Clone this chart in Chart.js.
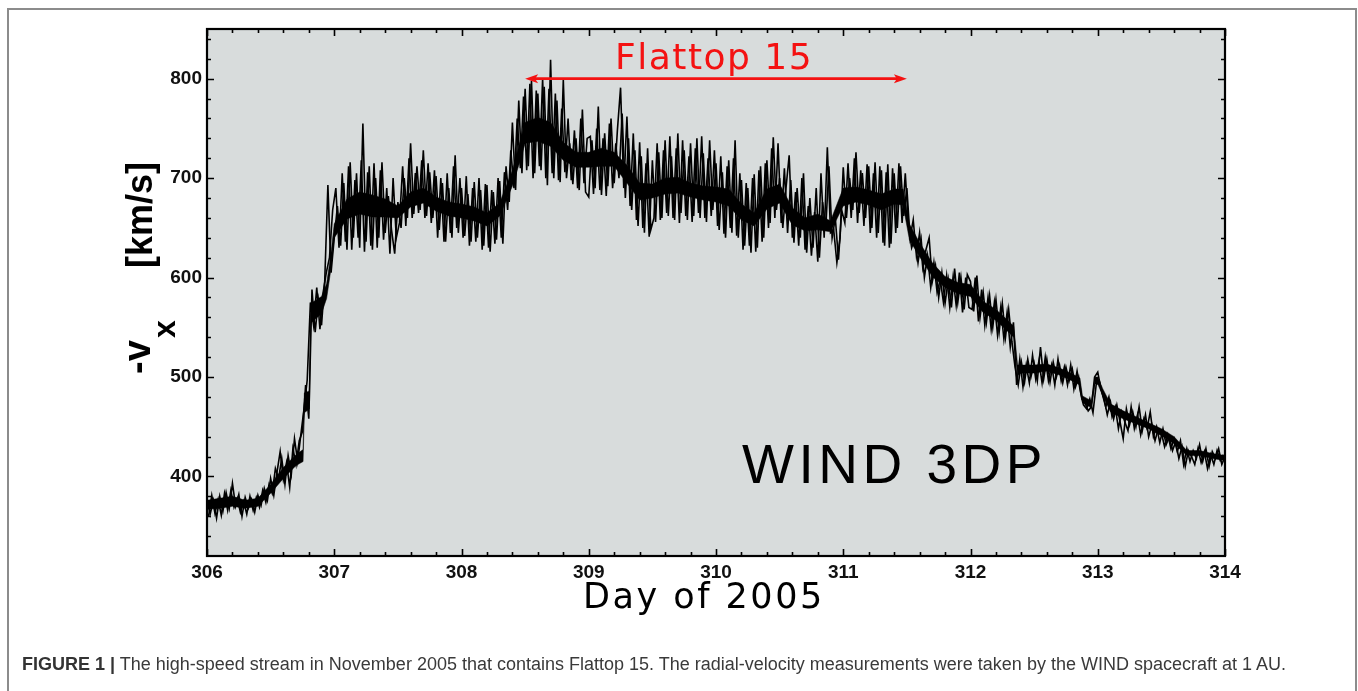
<!DOCTYPE html>
<html>
<head>
<meta charset="utf-8">
<title>WIND 3DP high-speed stream</title>
<script src="https://cdn.jsdelivr.net/npm/chart.js@4.4.1/dist/chart.umd.min.js"></script>
<style>
  html, body { margin: 0; padding: 0; background: #fff; }
  #wrap { position: relative; width: 1358px; height: 691px; overflow: hidden; }
  #frame { position: absolute; left: 7px; top: 8px; width: 1346px; height: 700px;
           border: 2px solid #8c8c8c; border-bottom: none; }
  #plot { position: absolute; left: 0; top: 0; }
  #caption { position: absolute; left: 22px; top: 655px; font-family: "Liberation Sans", Arial, sans-serif;
             font-size: 18px; line-height: 18px; color: #3a3a3a; white-space: nowrap; }
  #caption b { color: #333; }
</style>
</head>
<body>
<div id="wrap">
  <div id="frame"></div>
  <canvas id="plot" width="1358" height="691"></canvas>
  <div id="caption"><b>FIGURE 1 |</b> The high-speed stream in November 2005 that contains Flattop 15. The radial-velocity measurements were taken by the WIND spacecraft at 1 AU.</div>
</div>
<script>
// Solar-wind radial speed -v_x (km/s), two interleaved sample sets, each every 0.025 day
const DAY_START = 306;
const DAY_STEP = 0.025;
const speed = [
  // 306.0
  378, 362, 376, 358, 380, 365, 384, 368, 393, 370, 382, 360, 379, 368, 377, 364, 381, 371, 388, 376,
  // 306.5
  398, 381, 404, 425, 397, 414, 389, 428, 412, 436, 445, 492, 458, 588, 545, 578, 552, 596, 693, 605,
  // 307.0
  640, 672, 632, 695, 628, 716, 640, 705, 630, 755, 636, 712, 628, 700, 640, 716, 645, 682, 648, 624,
  // 307.5
  676, 650, 700, 660, 735, 664, 712, 668, 728, 662, 706, 660, 702, 648, 695, 636, 690, 640, 723, 645,
  // 308.0
  690, 642, 684, 636, 696, 640, 688, 632, 693, 626, 686, 638, 697, 634, 712, 676, 756, 688, 778, 705,
  // 308.5
  790, 712, 798, 705, 785, 708, 792, 693, 819, 700, 778, 696, 799, 700, 735, 694, 740, 688, 769, 686,
  // 309.0
  681, 738, 690, 772, 683, 745, 692, 760, 695, 748, 791, 690, 762, 672, 745, 658, 736, 650, 715, 641,
  // 309.5
  718, 656, 726, 660, 738, 662, 722, 658, 745, 665, 728, 658, 735, 662, 740, 660, 725, 656, 738, 668,
  // 310.0
  715, 648, 706, 640, 718, 645, 738, 640, 698, 632, 690, 625, 704, 630, 712, 640, 718, 655, 741, 668,
  // 310.5
  700, 650, 690, 723, 640, 686, 632, 700, 628, 672, 622, 666, 616, 705, 640, 731, 645, 648, 615, 640,
  // 311.0
  711, 660, 700, 668, 726, 665, 705, 660, 712, 650, 716, 645, 708, 632, 714, 634, 705, 650, 712, 662,
  // 311.5
  690, 640, 658, 622, 645, 610, 628, 640, 596, 612, 580, 605, 574, 598, 570, 609, 575, 600, 568, 603,
  // 312.0
  596, 566, 602, 560, 585, 555, 582, 550, 578, 545, 574, 540, 568, 536, 510, 492, 515, 495, 518, 500,
  // 312.5
  514, 496, 530, 498, 518, 495, 515, 500, 512, 494, 510, 496, 508, 490, 500, 478, 474, 466, 470, 500,
  // 313.0
  505, 488, 478, 462, 475, 458, 472, 455, 438, 468, 452, 465, 450, 470, 446, 462, 440, 452, 436, 448,
  // 313.5
  444, 430, 442, 428, 438, 425, 436, 412, 428, 415, 426, 418, 432, 415, 428, 410, 425, 418, 428, 412,
  // 314.0
  420
];
// second set, offset by half a step (306.0125, 306.0375, ...)
const speedMid = [
  360, 381, 363, 377, 361, 383, 366, 386, 369, 378, 364, 375, 362, 380, 366, 379, 369, 386, 374, 392,
  383, 408, 398, 418, 392, 421, 402, 438, 415, 442, 468, 497, 575, 552, 590, 548, 585, 605, 620, 668,
  690, 630, 705, 636, 712, 628, 698, 640, 718, 626, 706, 632, 715, 630, 708, 638, 690, 624, 700, 640,
  655, 712, 652, 720, 660, 705, 665, 718, 660, 715, 655, 708, 640, 700, 636, 705, 645, 712, 650, 700,
  640, 702, 632, 690, 636, 700, 628, 694, 630, 688, 634, 700, 640, 706, 668, 728, 690, 760, 710, 782,
  708, 795, 700, 788, 712, 800, 700, 790, 705, 785, 698, 770, 706, 760, 698, 748, 690, 760, 695, 740,
  742, 684, 750, 688, 740, 682, 755, 690, 735, 700, 765, 680, 740, 668, 728, 652, 722, 645, 730, 648,
  660, 735, 658, 728, 665, 742, 660, 730, 655, 738, 662, 722, 656, 730, 665, 742, 660, 720, 662, 728,
  652, 722, 644, 712, 650, 720, 642, 705, 628, 695, 632, 700, 626, 708, 636, 715, 650, 730, 660, 735,
  655, 710, 645, 698, 635, 690, 640, 705, 625, 680, 630, 690, 620, 676, 650, 712, 640, 660, 618, 668,
  655, 715, 660, 720, 655, 708, 652, 714, 645, 705, 640, 712, 635, 706, 630, 710, 645, 715, 655, 705,
  652, 630, 640, 615, 638, 600, 622, 590, 615, 585, 598, 575, 602, 570, 600, 572, 605, 565, 600, 570,
  568, 600, 556, 588, 552, 580, 548, 575, 542, 570, 538, 565, 530, 555, 492, 518, 490, 512, 494, 522,
  498, 516, 494, 520, 496, 512, 492, 518, 496, 510, 492, 512, 488, 506, 486, 472, 468, 478, 464, 492,
  496, 482, 470, 480, 460, 470, 448, 465, 455, 446, 470, 448, 462, 442, 458, 448, 465, 440, 450, 434,
  448, 432, 440, 426, 435, 418, 430, 410, 426, 420, 412, 428, 414, 425, 408, 422, 412, 426, 416, 422
];

// Dense core of the fluctuations: lower and upper edge of the darkest part (km/s)
const bandDays = [
  306.0, 306.1, 306.2, 306.3, 306.4, 306.5, 306.6, 306.7, 306.755, 306.765, 306.805, 306.815,
  306.9, 306.94, 306.97, 307.0, 307.1, 307.2, 307.3, 307.4, 307.5, 307.6, 307.7, 307.8, 307.9,
  308.0, 308.1, 308.2, 308.3, 308.4, 308.45, 308.5, 308.6, 308.7, 308.8, 308.9,
  309.0, 309.1, 309.2, 309.3, 309.4, 309.5, 309.6, 309.7, 309.8, 309.9,
  310.0, 310.1, 310.2, 310.3, 310.4, 310.5, 310.6, 310.7, 310.8, 310.9,
  311.0, 311.1, 311.2, 311.3, 311.4, 311.47, 311.52, 311.6, 311.7, 311.8, 311.9,
  312.0, 312.1, 312.2, 312.3, 312.34, 312.37, 312.4, 312.5, 312.6, 312.7, 312.8, 312.86, 312.88,
  312.95, 312.98, 313.0, 313.04, 313.1, 313.2, 313.3, 313.4, 313.5, 313.6, 313.7, 313.8, 313.9, 314.0
];
const bandLow = [
  367, 368, 370, 368, 370, 383, 398, 411, 415, 464, 468, 554,
  564, 579, 605, 640, 659, 664, 661, 661, 660, 671, 675, 667, 662,
  660, 657, 652, 662, 692, 713, 735, 737, 732, 718, 711,
  711, 712, 712, 695, 678, 680, 684, 685, 681, 678,
  676, 672, 658, 652, 669, 675, 653, 647, 648, 646,
  672, 676, 673, 668, 674, 673, 638, 621, 601, 590, 584,
  581, 565, 557, 545, 540, 502, 504, 504, 506, 502, 496, 492, 474,
  469, 493, 493, 481, 465, 458, 453, 448, 441, 433, 421, 421, 418, 416
];
const bandHigh = [
  376, 378, 380, 376, 378, 392, 409, 422, 427, 484, 486, 574,
  581, 594, 620, 654, 679, 686, 683, 679, 672, 686, 690, 681, 676,
  674, 671, 665, 675, 708, 732, 756, 761, 756, 736, 726,
  726, 730, 726, 713, 695, 694, 700, 701, 695, 692,
  691, 689, 674, 665, 689, 694, 670, 660, 664, 657,
  690, 691, 688, 684, 689, 689, 654, 635, 615, 601, 595,
  593, 576, 568, 556, 551, 512, 512, 512, 513, 509, 503, 499, 481,
  476, 500, 500, 488, 473, 466, 460, 454, 448, 440, 426, 426, 423, 421
];

const dayTicks = [306, 307, 308, 309, 310, 311, 312, 313, 314];
const speedTicks = [400, 500, 600, 700, 800];
const DAY_RANGE = [306, 314];
const SPEED_RANGE = [320, 850];

// Flattop interval marked by the red double arrow
const flattopLabel = 'Flattop 15';
const flattopSpan = [308.5, 311.5];
const flattopSpeed = 800;
const instrumentLabel = 'WIND 3DP';

const points = speed.map((v, i) => ({ x: DAY_START + i * DAY_STEP, y: v }));
const midPoints = speedMid.map((v, i) => ({ x: DAY_START + (i + 0.5) * DAY_STEP, y: v }));
const lowPts = bandDays.map((d, i) => ({ x: d, y: bandLow[i] }));
const highPts = bandDays.map((d, i) => ({ x: d, y: bandHigh[i] }));

const PLOT_BG = 'rgb(216,220,220)';
const RED = 'rgb(244,18,18)';
const SANS = '"Liberation Sans", Arial, Helvetica, sans-serif';
const WIDE = '"DejaVu Sans", Verdana, sans-serif';

const decorations = {
  id: 'decorations',
  beforeDatasetsDraw(chart) {
    const { ctx, chartArea: a } = chart;
    ctx.save();
    ctx.fillStyle = PLOT_BG;
    ctx.fillRect(a.left, a.top, a.right - a.left, a.bottom - a.top);
    ctx.restore();
  },
  afterDatasetsDraw(chart) {
    const { ctx, chartArea: a, scales: { x, y } } = chart;
    ctx.save();

    // inward tick marks on all four sides
    ctx.strokeStyle = '#000';
    ctx.lineWidth = 1.6;
    ctx.beginPath();
    for (let i = 0; i <= 40; i++) {
      const px = Math.round(x.getPixelForValue(DAY_START + i * 0.2)) + 0.5;
      const len = i % 5 === 0 ? 7 : 4;
      ctx.moveTo(px, a.bottom); ctx.lineTo(px, a.bottom - len);
      ctx.moveTo(px, a.top); ctx.lineTo(px, a.top + len);
    }
    for (let v = 340; v <= 840; v += 20) {
      const py = Math.round(y.getPixelForValue(v)) + 0.5;
      const len = v % 100 === 0 ? 7 : 4;
      ctx.moveTo(a.left, py); ctx.lineTo(a.left + len, py);
      ctx.moveTo(a.right, py); ctx.lineTo(a.right - len, py);
    }
    ctx.stroke();

    // plot frame
    ctx.lineWidth = 2.2;
    ctx.strokeRect(a.left, a.top, a.right - a.left, a.bottom - a.top);

    // flattop arrow
    const x0 = x.getPixelForValue(flattopSpan[0]);
    const x1 = x.getPixelForValue(flattopSpan[1]);
    const ya = y.getPixelForValue(flattopSpeed);
    ctx.strokeStyle = RED;
    ctx.fillStyle = RED;
    ctx.lineWidth = 2.8;
    ctx.beginPath();
    ctx.moveTo(x0 + 6, ya); ctx.lineTo(x1 - 6, ya);
    ctx.stroke();
    const head = (tip, dir) => {
      ctx.beginPath();
      ctx.moveTo(tip, ya);
      ctx.lineTo(tip + dir * 13, ya - 4.5);
      ctx.lineTo(tip + dir * 10, ya);
      ctx.lineTo(tip + dir * 13, ya + 4.5);
      ctx.closePath();
      ctx.fill();
    };
    head(x0, 1);
    head(x1, -1);

    ctx.font = '36px ' + WIDE;
    ctx.letterSpacing = '1.5px';
    ctx.textAlign = 'left';
    ctx.textBaseline = 'alphabetic';
    ctx.fillText(flattopLabel, 615, ya - 10);

    // instrument label
    ctx.fillStyle = '#000';
    ctx.font = '55px ' + SANS;
    ctx.letterSpacing = '4.5px';
    ctx.fillText(instrumentLabel, 742, 483);

    // x-axis title
    ctx.font = '35px ' + WIDE;
    ctx.letterSpacing = '2.5px';
    ctx.fillText('Day of 2005', 583, 608);

    // y-axis title: -v_x [km/s], read bottom to top
    ctx.letterSpacing = '0px';
    const vertical = (text, font, bx, by) => {
      ctx.save();
      ctx.translate(bx, by);
      ctx.rotate(-Math.PI / 2);
      ctx.font = font;
      ctx.fillText(text, 0, 0);
      ctx.restore();
    };
    vertical('-v', 'bold 38px ' + SANS, 150, 374);
    vertical('x', 'bold 32px ' + SANS, 175, 338);
    vertical('[km/s]', 'bold 36px ' + SANS, 152, 268);

    ctx.restore();
  }
};

const traceStyle = { borderColor: '#000', borderWidth: 1.6, pointRadius: 0, tension: 0, fill: false };

new Chart(document.getElementById('plot'), {
  type: 'line',
  data: {
    datasets: [
      { ...traceStyle, data: lowPts, borderWidth: 0.5 },
      { ...traceStyle, data: highPts, borderWidth: 0.5, backgroundColor: '#000', fill: '-1' },
      { ...traceStyle, data: points },
      { ...traceStyle, data: midPoints }
    ]
  },
  options: {
    responsive: false,
    animation: false,
    events: [],
    layout: { padding: { top: 29, right: 133, left: 0, bottom: 0 } },
    plugins: { legend: { display: false }, tooltip: { enabled: false } },
    scales: {
      x: {
        type: 'linear',
        min: DAY_RANGE[0], max: DAY_RANGE[1],
        afterBuildTicks: s => { s.ticks = dayTicks.map(v => ({ value: v })); },
        afterFit: s => { s.height = 135; },
        grid: { display: false, drawTicks: false },
        border: { display: false },
        ticks: {
          padding: 5,
          color: '#111',
          font: { family: SANS, size: 19, weight: 'bold' },
          maxRotation: 0,
          callback: v => String(v)
        }
      },
      y: {
        type: 'linear',
        min: SPEED_RANGE[0], max: SPEED_RANGE[1],
        afterBuildTicks: s => { s.ticks = speedTicks.map(v => ({ value: v })); },
        afterFit: s => { s.width = 207; },
        grid: { display: false, drawTicks: false },
        border: { display: false },
        ticks: {
          padding: 5,
          color: '#111',
          font: { family: SANS, size: 19, weight: 'bold' },
          callback: v => String(v)
        }
      }
    }
  },
  plugins: [decorations]
});
</script>
</body>
</html>
